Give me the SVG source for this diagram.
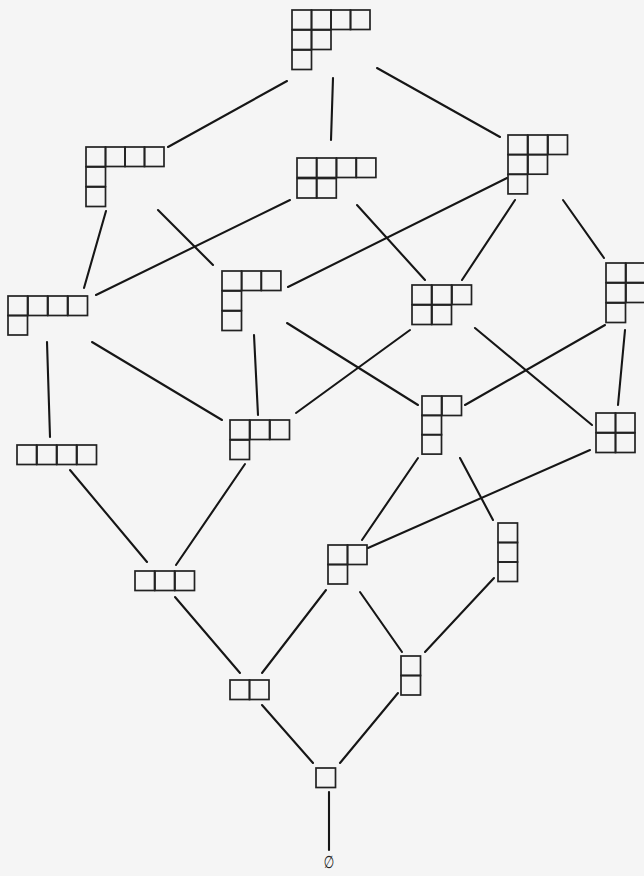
<svg xmlns="http://www.w3.org/2000/svg" width="644" height="876" viewBox="0 0 644 876">
<style>
.c{fill:none;stroke:#222;stroke-width:1.7}
.e{stroke:#161616;stroke-width:2.1;stroke-linecap:round}
.t{font-family:"DejaVu Sans",sans-serif;font-size:15px;fill:#222}
</style>
<defs><rect id="q" class="c" width="19.5" height="19.5"/></defs>
<rect width="644" height="876" fill="#f5f5f5"/>
<g id="edges">
<line class="e" x1="287" y1="81" x2="168" y2="147"/>
<line class="e" x1="333" y1="78" x2="331" y2="140"/>
<line class="e" x1="377" y1="68" x2="500" y2="137"/>
<line class="e" x1="106" y1="211" x2="84" y2="288"/>
<line class="e" x1="158" y1="210" x2="213" y2="265"/>
<line class="e" x1="290" y1="200" x2="96" y2="295"/>
<line class="e" x1="357" y1="205" x2="425" y2="280"/>
<line class="e" x1="507" y1="178" x2="288" y2="287"/>
<line class="e" x1="515" y1="200" x2="462" y2="280"/>
<line class="e" x1="563" y1="200" x2="604" y2="258"/>
<line class="e" x1="47" y1="342" x2="50" y2="437"/>
<line class="e" x1="92" y1="342" x2="222" y2="420"/>
<line class="e" x1="254" y1="335" x2="258" y2="415"/>
<line class="e" x1="287" y1="323" x2="418" y2="405"/>
<line class="e" x1="410" y1="330" x2="296" y2="413"/>
<line class="e" x1="475" y1="328" x2="592" y2="425"/>
<line class="e" x1="605" y1="325" x2="465" y2="405"/>
<line class="e" x1="625" y1="330" x2="618" y2="405"/>
<line class="e" x1="70" y1="470" x2="147" y2="562"/>
<line class="e" x1="245" y1="464" x2="176" y2="565"/>
<line class="e" x1="418" y1="458" x2="362" y2="540"/>
<line class="e" x1="460" y1="458" x2="493" y2="520"/>
<line class="e" x1="590" y1="450" x2="368" y2="548"/>
<line class="e" x1="175" y1="597" x2="240" y2="673"/>
<line class="e" x1="326" y1="590" x2="262" y2="673"/>
<line class="e" x1="360" y1="592" x2="402" y2="652"/>
<line class="e" x1="494" y1="578" x2="425" y2="652"/>
<line class="e" x1="262" y1="705" x2="313" y2="763"/>
<line class="e" x1="398" y1="693" x2="340" y2="763"/>
<line class="e" x1="329" y1="792" x2="329" y2="850"/>
</g>
<g id="n421" transform="translate(292,10)">
<use href="#q" x="0" y="0"/><use href="#q" x="19.5" y="0"/><use href="#q" x="39" y="0"/><use href="#q" x="58.5" y="0"/>
<use href="#q" x="0" y="20"/><use href="#q" x="19.5" y="20"/>
<use href="#q" x="0" y="40"/>
</g>
<g id="n411" transform="translate(86,147)">
<use href="#q" x="0" y="0"/><use href="#q" x="19.5" y="0"/><use href="#q" x="39" y="0"/><use href="#q" x="58.5" y="0"/>
<use href="#q" x="0" y="20"/>
<use href="#q" x="0" y="40"/>
</g>
<g id="n42" transform="translate(297,158)">
<use href="#q" x="0" y="0"/><use href="#q" x="19.8" y="0"/><use href="#q" x="39.6" y="0"/><use href="#q" x="59.4" y="0"/>
<use href="#q" x="0" y="20.5"/><use href="#q" x="19.8" y="20.5"/>
</g>
<g id="n321" transform="translate(508,135)">
<use href="#q" x="0" y="0"/><use href="#q" x="20" y="0"/><use href="#q" x="40" y="0"/>
<use href="#q" x="0" y="19.7"/><use href="#q" x="20" y="19.7"/>
<use href="#q" x="0" y="39.4"/>
</g>
<g id="n41" transform="translate(8,296)">
<use href="#q" x="0" y="0"/><use href="#q" x="20" y="0"/><use href="#q" x="40" y="0"/><use href="#q" x="60" y="0"/>
<use href="#q" x="0" y="19.5"/>
</g>
<g id="n311" transform="translate(222,271)">
<use href="#q" x="0" y="0"/><use href="#q" x="19.7" y="0"/><use href="#q" x="39.4" y="0"/>
<use href="#q" x="0" y="20"/>
<use href="#q" x="0" y="40"/>
</g>
<g id="n32" transform="translate(412,285)">
<use href="#q" x="0" y="0"/><use href="#q" x="20" y="0"/><use href="#q" x="40" y="0"/>
<use href="#q" x="0" y="20"/><use href="#q" x="20" y="20"/>
</g>
<g id="n221" transform="translate(606,263)">
<use href="#q" x="0" y="0"/><use href="#q" x="20" y="0"/>
<use href="#q" x="0" y="20"/><use href="#q" x="20" y="20"/>
<use href="#q" x="0" y="40"/>
</g>
<g id="n4" transform="translate(17,445)">
<use href="#q" x="0" y="0"/><use href="#q" x="20" y="0"/><use href="#q" x="40" y="0"/><use href="#q" x="60" y="0"/>
</g>
<g id="n31" transform="translate(230,420)">
<use href="#q" x="0" y="0"/><use href="#q" x="20" y="0"/><use href="#q" x="40" y="0"/>
<use href="#q" x="0" y="20"/>
</g>
<g id="n211" transform="translate(422,396)">
<use href="#q" x="0" y="0"/><use href="#q" x="20" y="0"/>
<use href="#q" x="0" y="19.3"/>
<use href="#q" x="0" y="38.6"/>
</g>
<g id="n22" transform="translate(596,413)">
<use href="#q" x="0" y="0"/><use href="#q" x="19.5" y="0"/>
<use href="#q" x="0" y="20"/><use href="#q" x="19.5" y="20"/>
</g>
<g id="n3" transform="translate(135,571)">
<use href="#q" x="0" y="0"/><use href="#q" x="20" y="0"/><use href="#q" x="40" y="0"/>
</g>
<g id="n21" transform="translate(328,545)">
<use href="#q" x="0" y="0"/><use href="#q" x="19.5" y="0"/>
<use href="#q" x="0" y="19.5"/>
</g>
<g id="n111" transform="translate(498,523)">
<use href="#q" x="0" y="0"/>
<use href="#q" x="0" y="19.5"/>
<use href="#q" x="0" y="39"/>
</g>
<g id="n2" transform="translate(230,680)">
<use href="#q" x="0" y="0"/><use href="#q" x="19.5" y="0"/>
</g>
<g id="n11" transform="translate(401,656)">
<use href="#q" x="0" y="0"/>
<use href="#q" x="0" y="19.5"/>
</g>
<g id="n1" transform="translate(316,768)">
<use href="#q" x="0" y="0"/>
</g>
<g id="nempty">
<text class="t" transform="translate(329,868) scale(0.8,1.15)" text-anchor="middle" font-style="italic">∅</text>
</g>
</svg>
